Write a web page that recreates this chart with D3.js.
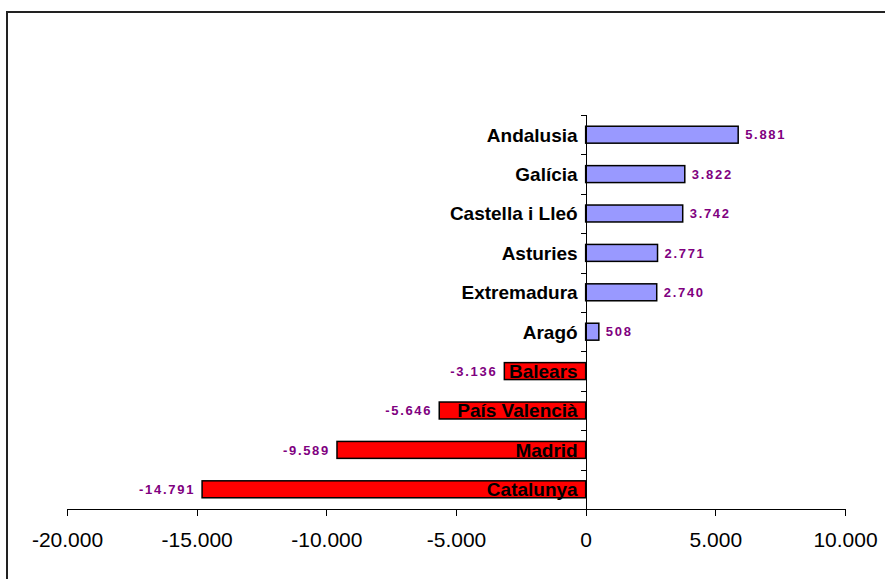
<!DOCTYPE html>
<html>
<head>
<meta charset="utf-8">
<title>saldo per comunitat</title>
<script src="https://d3js.org/d3.v7.min.js"></script>
<style>
body{
	margin:0;
	background:#fff;
}
svg text{
	font-family: Arial, 'Liberation Sans', sans-serif;
}
.cat{
	font-size:19px;
	font-weight:bold;
	fill:#000;
}
.val{
	font-size:13px;
	font-weight:bold;
	letter-spacing:1.7px;
	fill:#800080;
}
.x.axis text{
	font-size:21px;
	fill:#000;
}
.axis path, .axis line{
	stroke:#000;
	shape-rendering:crispEdges;
}
</style>
</head>
<body>
<svg id="chart"></svg>
<script>
// data
var regions = ["Andalusia", "Galícia", "Castella i Lleó", "Asturies", "Extremadura",
	"Aragó", "Balears", "País Valencià", "Madrid", "Catalunya"];
var values = [5881, 3822, 3742, 2771, 2740, 508, -3136, -5646, -9589, -14791];
var xTicks = [-20000, -15000, -10000, -5000, 0, 5000, 10000];

var width = 885,
	height = 579;

var svg = d3.select("#chart")
	.attr("width", width)
	.attr("height", height);

// outer frame (runs off the right/bottom edge like the original)
svg.append("rect")
	.attr("x", 7)
	.attr("y", 12)
	.attr("width", 900)
	.attr("height", 600)
	.attr("fill", "none")
	.attr("stroke", "#222")
	.attr("stroke-width", 2);

// catalan style numbers: 14.791
var loc = d3.formatLocale({decimal: ",", thousands: ".", grouping: [3], currency: ["", " €"], minus: "-"});
var fmt = loc.format(",d");

var x = d3.scaleLinear()
	.domain([-20000, 10000])
	.range([67, 845]);

var y = d3.scaleBand()
	.domain(regions)
	.range([115, 509])
	.paddingInner(0.57)
	.paddingOuter(0.285);

//tick marks on the category axis sit between the bars
var yTick = d3.scaleLinear()
	.domain([0, regions.length])
	.range([115, 509]);

var data = regions.map(function(r, i){ return {name: r, value: values[i]}; });

// bars
svg.append("g").selectAll("rect")
	.data(data)
	.enter()
	.append("rect")
	.attr("x", function(d){ return x(Math.min(0, d.value)); })
	.attr("y", function(d){ return y(d.name); })
	.attr("width", function(d){ return Math.abs(x(d.value) - x(0)); })
	.attr("height", y.bandwidth())
	.attr("fill", function(d){ return d.value >= 0 ? "#9999ff" : "#ff0000"; })
	.attr("stroke", "#000")
	.attr("stroke-width", 1.5);

// x axis
svg.append("g")
	.attr("class", "x axis")
	.attr("transform", "translate(0," + 509 + ")")
	.call(d3.axisBottom(x).tickValues(xTicks).tickSize(7).tickPadding(16).tickFormat(fmt));

// y axis
svg.append("g")
	.attr("class", "y axis")
	.attr("transform", "translate(" + x(0) + ",0)")
	.call(d3.axisLeft(yTick).ticks(regions.length).tickSize(5).tickSizeOuter(5).tickFormat(""));

// category names, right aligned against the axis
svg.append("g").selectAll("text")
	.data(data)
	.enter()
	.append("text")
	.attr("class", "cat")
	.attr("x", x(0) - 8)
	.attr("y", function(d){ return y(d.name) + y.bandwidth() / 2; })
	.attr("dy", "0.36em")
	.attr("text-anchor", "end")
	.text(function(d){ return d.name; });

// value labels
svg.append("g").selectAll("text")
	.data(data)
	.enter()
	.append("text")
	.attr("class", "val")
	.attr("x", function(d){ return d.value >= 0 ? x(d.value) + 7 : x(d.value) - 7; })
	.attr("y", function(d){ return y(d.name) + y.bandwidth() / 2; })
	.attr("dy", "0.36em")
	.attr("text-anchor", function(d){ return d.value >= 0 ? "start" : "end"; })
	.text(function(d){ return fmt(d.value); });
</script>
</body>
</html>
